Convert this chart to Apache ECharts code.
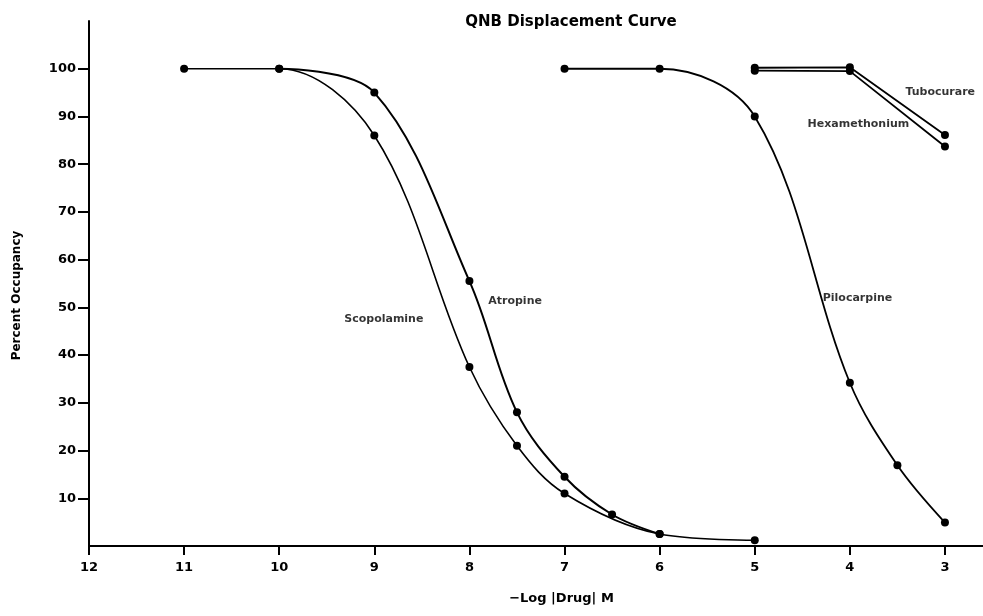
<!DOCTYPE html>
<html>
<head>
<meta charset="utf-8">
<script src="https://cdn.jsdelivr.net/npm/echarts@6/dist/echarts.min.js"></script>
<style>html,body{margin:0;padding:0;background:#fff}#c{width:983px;height:616px}</style>
</head>
<body>
<div id="c"></div>
<script>
// ---- data ----
var xTicks = [12, 11, 10, 9, 8, 7, 6, 5, 4, 3];
var yTicks = [10, 20, 30, 40, 50, 60, 70, 80, 90, 100];

var scopolamineX = [11, 10, 9, 8, 7.5, 7, 6, 5];
var scopolamineY = [100, 100, 86, 37.5, 21, 11, 2.5, 1.2];

var atropineX = [10, 9, 8, 7.5, 7, 6.5, 6];
var atropineY = [100, 95, 55.5, 28, 14.5, 6.6, 2.5];

var pilocarpineX = [7, 6, 5, 4, 3.5, 3];
var pilocarpineY = [100, 100, 90, 34.2, 16.9, 4.9];

var tubocurareX = [5, 4, 3];
var tubocurareY = [100.2, 100.3, 86.1];

var hexamethoniumX = [5, 4, 3];
var hexamethoniumY = [99.6, 99.5, 83.7];

var labelNames = ['Scopolamine', 'Atropine', 'Pilocarpine', 'Tubocurare', 'Hexamethonium'];
var labelX = [8.9, 7.52, 3.92, 3.05, 3.91];
var labelY = [47.5, 51.3, 51.9, 95.1, 88.4];

function pairs(xs, ys) { return xs.map(function (x, i) { return [x, ys[i]]; }); }

var FONT = 'DejaVu Sans';
var chart = echarts.init(document.getElementById('c'), null, {renderer: 'canvas'});

function lineSeries(name, xs, ys, smooth, width) {
  return {
    name: name, type: 'line', data: pairs(xs, ys),
    smooth: smooth,
    symbol: 'circle', symbolSize: 8,
    lineStyle: {color: '#000', width: width},
    itemStyle: {color: '#000'},
    z: 3
  };
}

chart.setOption({
  animation: false,
  backgroundColor: '#fff',
  title: {
    text: 'QNB Displacement Curve',
    left: 566, top: 10, textAlign: 'center',
    textStyle: {fontFamily: FONT, fontWeight: 'bold', fontSize: 15, color: '#000'}
  },
  grid: {left: 89, right: 0, top: 21, bottom: 70},
  xAxis: {
    type: 'value', inverse: true, min: 2.6, max: 12,
    name: '\u2212Log |Drug| M', nameLocation: 'middle', nameGap: 46,
    nameTextStyle: {fontFamily: FONT, fontWeight: 'bold', fontSize: 13, color: '#000', padding: [0, 0, 0, 51]},
    axisLine: {show: true, onZero: false, lineStyle: {color: '#000', width: 2}},
    axisTick: {show: true, customValues: xTicks, length: 9, lineStyle: {color: '#000', width: 2}},
    axisLabel: {customValues: xTicks, margin: 15, fontFamily: FONT, fontWeight: 'bold', fontSize: 13, color: '#000'},
    splitLine: {show: false}
  },
  yAxis: {
    type: 'value', min: 0, max: 110,
    name: 'Percent Occupancy', nameLocation: 'middle', nameGap: 66, nameRotate: 90,
    nameTextStyle: {fontFamily: FONT, fontWeight: 'bold', fontSize: 12, color: '#000', padding: [0, 24, 0, 0]},
    axisLine: {show: true, onZero: false, lineStyle: {color: '#000', width: 2}},
    axisTick: {show: true, customValues: yTicks, length: 11, lineStyle: {color: '#000', width: 2}},
    axisLabel: {customValues: yTicks, margin: 13, fontFamily: FONT, fontWeight: 'bold', fontSize: 13, color: '#000'},
    splitLine: {show: false}
  },
  series: [
    lineSeries('Scopolamine', scopolamineX, scopolamineY, 0.35, 1.6),
    lineSeries('Atropine', atropineX, atropineY, 0.35, 2),
    lineSeries('Pilocarpine', pilocarpineX, pilocarpineY, 0.35, 1.8),
    lineSeries('Tubocurare', tubocurareX, tubocurareY, false, 1.8),
    lineSeries('Hexamethonium', hexamethoniumX, hexamethoniumY, false, 1.8),
    {
      name: 'labels', type: 'scatter', symbolSize: 0, silent: true,
      data: labelNames.map(function (n, i) { return {name: n, value: [labelX[i], labelY[i]]}; }),
      label: {
        show: true, position: 'inside', formatter: '{b}',
        fontFamily: FONT, fontWeight: 'bold', fontSize: 11, color: '#000'
      },
      z: 5
    }
  ]
});
</script>
</body>
</html>
